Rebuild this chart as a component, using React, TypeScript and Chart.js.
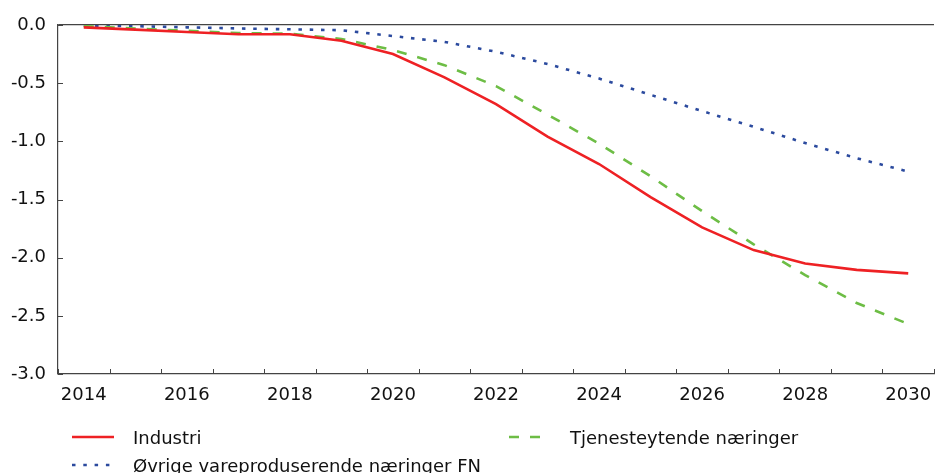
import React, { useEffect, useRef } from "react";
import { Chart, registerables } from "chart.js";

Chart.register(...registerables);

const years = ["2014","2015","2016","2017","2018","2019","2020","2021","2022","2023","2024","2025","2026","2027","2028","2029","2030"];
const industri = [-0.02,-0.04,-0.06,-0.08,-0.08,-0.135,-0.25,-0.45,-0.68,-0.96,-1.195,-1.48,-1.74,-1.935,-2.05,-2.105,-2.135];
const tjenesteytende = [-0.01,-0.03,-0.05,-0.07,-0.075,-0.12,-0.215,-0.345,-0.525,-0.77,-1.02,-1.3,-1.6,-1.885,-2.15,-2.39,-2.57];
const ovrige = [-0.005,-0.01,-0.02,-0.03,-0.037,-0.045,-0.095,-0.145,-0.23,-0.335,-0.46,-0.6,-0.74,-0.875,-1.015,-1.145,-1.26];
const seriesLabels = ["Industri", "Tjenesteytende næringer", "Øvrige vareproduserende næringer FN"];
const yMin = -3;
const yMax = 0;
const yStep = 0.5;

const RED = "#ee2124";
const GREEN = "#6dbd45";
const BLUE = "#2b4a9e";
const FONT = "'DejaVu Sans', sans-serif";
const AXIS = "#444";

const innerTicks = {
  id: "innerTicks",
  afterDraw(chart: any) {
    const { ctx, chartArea, scales } = chart;
    const x = scales.x;
    const y = scales.y;
    ctx.save();
    ctx.strokeStyle = AXIS;
    ctx.lineWidth = 1;
    ctx.beginPath();
    for (let i = 0; i <= years.length; i++) {
      const px = Math.round(x.getPixelForValue(i - 0.5)) + 0.5;
      ctx.moveTo(px, chartArea.bottom);
      ctx.lineTo(px, chartArea.bottom - 5);
    }
    y.ticks.forEach((t: any) => {
      const py = Math.round(y.getPixelForValue(t.value)) + 0.5;
      ctx.moveTo(chartArea.left, py);
      ctx.lineTo(chartArea.left + 5, py);
    });
    ctx.stroke();
    ctx.restore();
  },
};

function LegendItem({ left, top, label, color, dash }: any) {
  return (
    <div style={{ position: "absolute", left, top, height: 24, display: "flex", alignItems: "center" }}>
      <svg width={44} height={10} style={{ display: "block" }}>
        <line x1={0} y1={5} x2={42} y2={5} stroke={color} strokeWidth={2.5} strokeDasharray={dash} />
      </svg>
      <span style={{ marginLeft: 17, fontFamily: FONT, fontSize: 18, color: "#111", whiteSpace: "nowrap" }}>{label}</span>
    </div>
  );
}

export default function App() {
  const ref = useRef<HTMLCanvasElement | null>(null);
  useEffect(() => {
    document.body.style.margin = "0";
    const canvas = ref.current!;
    const chart = new Chart(canvas, {
      type: "line",
      data: {
        labels: years,
        datasets: [
          { label: seriesLabels[0], data: industri, borderColor: RED, borderWidth: 2.6, pointRadius: 0, tension: 0, fill: false },
          { label: seriesLabels[1], data: tjenesteytende, borderColor: GREEN, borderWidth: 2.6, borderDash: [10, 11], pointRadius: 0, tension: 0, fill: false },
          { label: seriesLabels[2], data: ovrige, borderColor: BLUE, borderWidth: 2.6, borderDash: [3.5, 7.8], pointRadius: 0, tension: 0, fill: false },
        ],
      },
      options: {
        animation: false,
        responsive: false,
        devicePixelRatio: 1,
        layout: { padding: { top: 25, left: 0, right: 2, bottom: 69 } },
        plugins: { legend: { display: false }, tooltip: { enabled: false } },
        scales: {
          x: {
            type: "category",
            offset: true,
            grid: { display: false, offset: true },
            border: { display: true, color: AXIS, width: 1.2 },
            ticks: {
              autoSkip: false,
              maxRotation: 0,
              padding: 3,
              color: "#111",
              font: { family: FONT, size: 18 },
              callback: (_v: any, i: number) => (i % 2 === 0 ? years[i] : ""),
            },
            afterFit: (s: any) => { s.height = 30; },
          },
          y: {
            min: yMin,
            max: yMax,
            grid: {
              drawTicks: false,
              color: (c: any) => (c.tick && c.tick.value === 0 ? AXIS : "rgba(0,0,0,0)"),
              lineWidth: 1.2,
            },
            border: { display: true, color: AXIS, width: 1.2 },
            ticks: {
              stepSize: yStep,
              padding: 12,
              color: "#111",
              font: { family: FONT, size: 18 },
              callback: (v: any) => Number(v).toFixed(1),
            },
            afterFit: (s: any) => { s.width = 58; },
          },
        },
      },
      plugins: [innerTicks],
    });
    return () => chart.destroy();
  }, []);

  return (
    <div style={{ position: "relative", width: 936, height: 473 }}>
      <canvas ref={ref} width={936} height={473} style={{ display: "block" }} />
      <LegendItem left={72} top={425} label={seriesLabels[0]} color={RED} dash="none" />
      <LegendItem left={509} top={425} label={seriesLabels[1]} color={GREEN} dash="10 11" />
      <LegendItem left={72} top={453} label={seriesLabels[2]} color={BLUE} dash="3.5 7.8" />
    </div>
  );
}
